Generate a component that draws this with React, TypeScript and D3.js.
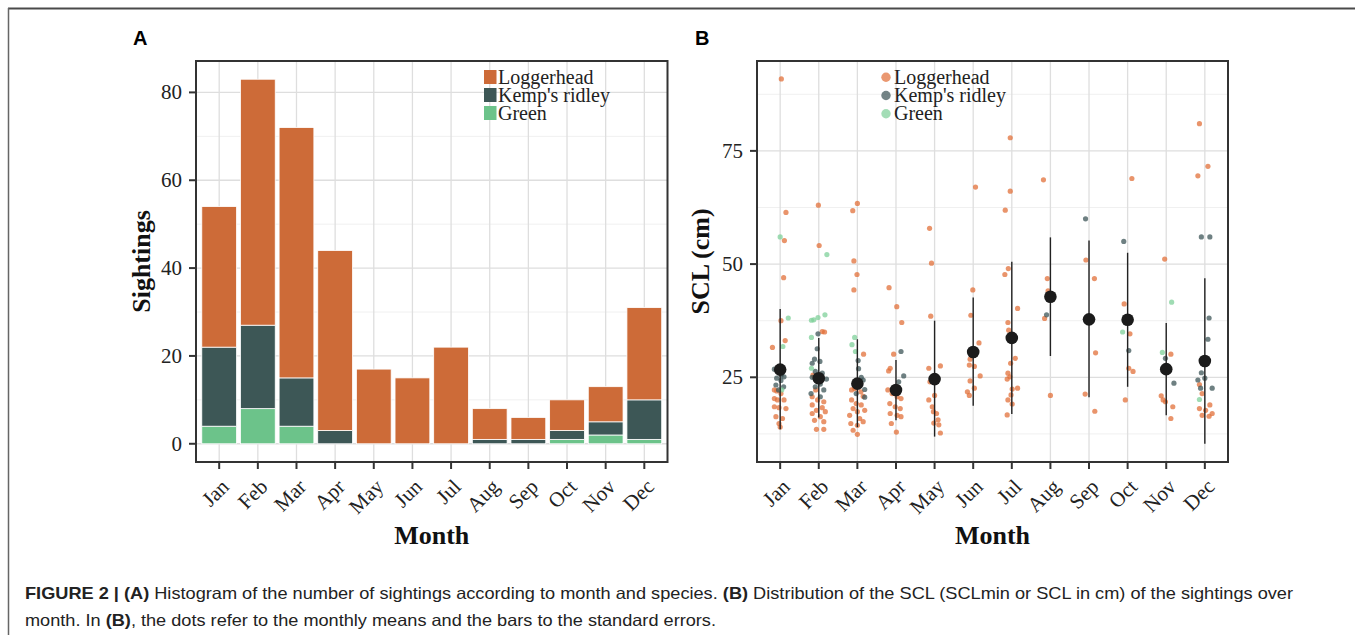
import * as d3 from "d3";

const MONTHS = ["Jan", "Feb", "Mar", "Apr", "May", "Jun", "Jul", "Aug", "Sep", "Oct", "Nov", "Dec"];

// panel A: sightings per month
const loggerheadCounts = [32, 56, 57, 41, 17, 15, 22, 7, 5, 7, 8, 21];
const kempCounts = [18, 19, 11, 3, 0, 0, 0, 1, 1, 2, 3, 9];
const greenCounts = [4, 8, 4, 0, 0, 0, 0, 0, 0, 1, 2, 1];
const countTicks = [0, 20, 40, 60, 80];

// panel B: monthly means and standard error bars
const meanScl = [26.7, 24.8, 23.6, 22.2, 24.6, 30.6, 33.7, 42.8, 37.8, 37.7, 26.8, 28.6];
const errLow = [13.5, 16.1, 14.0, 15.5, 11.9, 18.7, 16.9, 29.7, 20.6, 22.9, 16.6, 10.3];
const errHigh = [40.1, 33.7, 33.4, 28.8, 37.5, 42.6, 50.5, 55.9, 55.2, 52.5, 37.0, 46.9];
const sclTicks = [25, 50, 75];

// [month index, jitter, SCL]
const loggerheadPts: [number, number, number][] = [
  [0, 0.03, 90.9], [0, 0.15, 61.4], [0, 0.11, 55.2], [0, 0.09, 47.0], [0, 0.02, 37.5], [0, 0.13, 33.1],
  [0, -0.2, 31.6], [0, -0.15, 22.2], [0, -0.09, 22.0], [0, 0.02, 21.4], [0, -0.15, 20.3], [0, -0.07, 20.0],
  [0, 0.1, 20.0], [0, -0.15, 18.5], [0, -0.03, 18.3], [0, 0.15, 18.1], [0, -0.11, 16.3], [0, 0.06, 15.9],
  [0, -0.03, 14.8], [0, 0.0, 14.0],
  [1, -0.01, 63.0], [1, 0.01, 54.1], [1, 0.09, 35.1], [1, 0.15, 35.0], [1, -0.15, 25.5], [1, -0.08, 22.2],
  [1, -0.17, 20.7], [1, -0.03, 20.0], [1, 0.13, 19.6], [1, -0.17, 18.9], [1, 0.09, 18.3], [1, -0.06, 17.7],
  [1, 0.17, 17.4], [1, -0.17, 17.0], [1, 0.04, 16.3], [1, -0.11, 15.5], [1, 0.13, 15.2], [1, -0.06, 13.5],
  [1, 0.13, 13.5],
  [2, -0.12, 61.8], [2, 0.0, 63.4], [2, -0.09, 50.7], [2, -0.01, 47.7], [2, -0.09, 44.3], [2, 0.16, 30.1],
  [2, -0.15, 22.2], [2, -0.07, 22.5], [2, 0.09, 21.8], [2, 0.15, 20.8], [2, -0.15, 20.0], [2, -0.03, 19.2],
  [2, 0.1, 18.9], [2, -0.11, 18.1], [2, 0.19, 17.7], [2, 0.0, 17.4], [2, -0.2, 16.6], [2, 0.06, 15.9],
  [2, 0.15, 15.2], [2, -0.17, 14.8], [2, 0.0, 14.4], [2, -0.11, 13.3], [2, 0.0, 12.4],
  [3, -0.18, 44.8], [3, 0.02, 40.6], [3, 0.15, 37.1], [3, -0.06, 30.1], [3, -0.15, 27.0], [3, -0.19, 26.4],
  [3, -0.21, 22.2], [3, -0.1, 21.4], [3, 0.03, 20.7], [3, 0.13, 20.3], [3, -0.16, 19.2], [3, -0.02, 18.5],
  [3, 0.11, 18.1], [3, -0.15, 17.0], [3, 0.03, 16.6], [3, 0.13, 16.3], [3, -0.12, 14.8], [3, 0.01, 12.9],
  [4, -0.13, 57.9], [4, -0.08, 50.2], [4, -0.1, 38.5], [4, -0.15, 27.0], [4, 0.15, 27.5], [4, -0.12, 24.0],
  [4, 0.0, 21.0], [4, -0.15, 20.0], [4, -0.06, 18.5], [4, -0.03, 17.4], [4, 0.05, 17.0], [4, 0.09, 15.6],
  [4, -0.02, 14.9], [4, 0.11, 14.5], [4, 0.15, 12.7],
  [5, 0.06, 67.0], [5, -0.01, 44.3], [5, -0.06, 38.7], [5, 0.15, 32.6], [5, -0.08, 29.0], [5, 0.03, 27.4],
  [5, -0.1, 27.7], [5, 0.18, 25.3], [5, -0.08, 24.2], [5, 0.03, 22.6], [5, -0.15, 21.8], [5, -0.1, 21.0],
  [6, -0.04, 77.9], [6, -0.04, 66.1], [6, -0.17, 61.9], [6, -0.09, 49.0], [6, -0.18, 47.7], [6, 0.15, 40.2],
  [6, -0.1, 37.1], [6, -0.08, 35.4], [6, 0.09, 29.2], [6, -0.03, 28.1], [6, -0.1, 25.9], [6, -0.05, 25.1],
  [6, -0.12, 24.6], [6, 0.15, 22.6], [6, 0.01, 22.4], [6, -0.02, 21.1], [6, -0.1, 20.0], [6, 0.01, 19.1],
  [6, -0.12, 16.7],
  [7, -0.18, 68.6], [7, -0.08, 46.8], [7, -0.06, 44.1], [7, -0.15, 38.0], [7, 0.0, 21.0],
  [8, -0.08, 50.9], [8, 0.14, 46.8], [8, 0.17, 30.4], [8, -0.1, 21.3], [8, 0.15, 17.5],
  [9, 0.11, 68.9], [9, -0.09, 41.2], [9, 0.06, 34.6], [9, 0.03, 27.0], [9, 0.14, 26.3], [9, -0.06, 20.0],
  [10, -0.04, 51.1], [10, 0.12, 30.1], [10, -0.13, 20.9], [10, -0.08, 20.0], [10, -0.02, 19.6],
  [10, 0.17, 18.5], [10, 0.12, 15.9],
  [11, -0.14, 81.0], [11, 0.08, 71.6], [11, -0.18, 69.5], [11, -0.14, 23.4], [11, -0.07, 21.4],
  [11, 0.13, 18.9], [11, -0.14, 18.1], [11, 0.02, 17.7], [11, 0.19, 17.0], [11, -0.07, 16.6], [11, 0.11, 16.4],
];

const kempPts: [number, number, number][] = [
  [0, -0.15, 26.8], [0, -0.07, 26.3], [0, 0.03, 25.5], [0, -0.09, 24.8], [0, 0.02, 24.3], [0, -0.11, 23.3],
  [0, 0.09, 22.9], [0, -0.04, 22.2], [0, 0.1, 25.1],
  [1, -0.02, 34.6], [1, -0.04, 31.3], [1, -0.11, 29.0], [1, 0.03, 28.5], [1, -0.17, 28.1], [1, -0.09, 26.3],
  [1, 0.09, 25.9], [1, -0.17, 25.0], [1, 0.2, 24.6], [1, 0.04, 23.5], [1, -0.09, 22.9], [1, 0.13, 22.2],
  [1, -0.2, 21.4], [1, 0.04, 20.7],
  [2, 0.02, 28.7], [2, 0.03, 26.9], [2, 0.1, 25.0], [2, 0.19, 22.3], [2, -0.03, 21.4], [2, 0.19, 20.6],
  [2, -0.07, 23.5], [2, 0.15, 24.4],
  [3, 0.13, 30.7], [3, 0.2, 25.3], [3, 0.07, 24.0],
  [7, -0.1, 38.8],
  [8, -0.09, 60.0],
  [9, -0.1, 55.0], [9, 0.03, 30.9],
  [10, -0.02, 29.2], [10, 0.2, 23.7], [10, -0.08, 27.0],
  [11, -0.09, 56.0], [11, 0.13, 56.0], [11, 0.11, 38.1], [11, 0.08, 33.4], [11, -0.09, 26.0],
  [11, -0.18, 24.4], [11, 0.0, 24.8], [11, -0.11, 22.6], [11, 0.19, 22.6],
];

const greenPts: [number, number, number][] = [
  [0, 0.0, 56.0], [0, 0.21, 38.1], [0, 0.07, 31.8], [0, 0.04, 22.2],
  [1, 0.21, 52.1], [1, -0.19, 37.6], [1, -0.13, 37.7], [1, -0.02, 38.2], [1, 0.16, 38.8], [1, -0.19, 33.8],
  [1, -0.19, 27.0],
  [2, -0.07, 33.8], [2, -0.14, 32.2], [2, -0.05, 30.7],
  [9, -0.13, 35.0],
  [10, 0.14, 41.6], [10, -0.1, 30.5],
  [11, -0.14, 20.1],
];

const SERIF = "'Liberation Serif', 'Times New Roman', serif";
const SANS = "'Liberation Sans', Arial, sans-serif";

const BAR_COLORS = { loggerhead: "#cd6b38", kemp: "#3d5756", green: "#6cc38a" };
const PT_COLORS = { loggerhead: "#e2703a", kemp: "#3e5558", green: "#7fd09a" };

const TOP = 61;
const BOTTOM = 462;

function Frame({ x0, x1 }: { x0: number; x1: number }) {
  return (
    <rect x={x0} y={TOP} width={x1 - x0} height={BOTTOM - TOP} fill="none" stroke="#333" strokeWidth={2} />
  );
}

function MonthAxis({ x }: { x: d3.ScaleLinear<number, number> }) {
  return (
    <g>
      {MONTHS.map((m, i) => (
        <g key={m}>
          <line x1={x(i)} x2={x(i)} y1={BOTTOM} y2={BOTTOM + 7} stroke="#333" strokeWidth={2} />
          <text
            transform={`translate(${x(i) + 11},${488}) rotate(-45)`}
            textAnchor="end"
            fontFamily={SERIF}
            fontSize={21}
            fill="#222"
          >
            {m}
          </text>
        </g>
      ))}
    </g>
  );
}

function PanelA() {
  const x = d3.scaleLinear().domain([-0.6, 11.6]).range([196, 667.5]);
  const y = d3.scaleLinear().domain([-4.15, 87.15]).range([BOTTOM, TOP]);
  const step = x(1) - x(0);
  const bw = step * 0.9;
  const minor = [10, 30, 50, 70];
  const legend = [
    { label: "Loggerhead", color: BAR_COLORS.loggerhead },
    { label: "Kemp's ridley", color: BAR_COLORS.kemp },
    { label: "Green", color: BAR_COLORS.green },
  ];
  return (
    <g>
      <rect x={196} y={TOP} width={471.5} height={BOTTOM - TOP} fill="#fff" />
      {minor.map((t) => (
        <line key={t} x1={196} x2={667.5} y1={y(t)} y2={y(t)} stroke="#f0f0f0" strokeWidth={1} />
      ))}
      {countTicks.map((t) => (
        <line key={t} x1={196} x2={667.5} y1={y(t)} y2={y(t)} stroke="#dedede" strokeWidth={1.3} />
      ))}
      {MONTHS.map((m, i) => (
        <line key={m} x1={x(i)} x2={x(i)} y1={TOP} y2={BOTTOM} stroke="#dedede" strokeWidth={1.3} />
      ))}
      {MONTHS.map((m, i) => {
        const g0 = greenCounts[i];
        const k0 = g0 + kempCounts[i];
        const l0 = k0 + loggerheadCounts[i];
        const segs = [
          { a: 0, b: g0, c: BAR_COLORS.green },
          { a: g0, b: k0, c: BAR_COLORS.kemp },
          { a: k0, b: l0, c: BAR_COLORS.loggerhead },
        ].filter((s) => s.b > s.a);
        return (
          <g key={m}>
            {segs.map((s, j) => (
              <rect
                key={j}
                x={x(i) - bw / 2}
                y={y(s.b)}
                width={bw}
                height={y(s.a) - y(s.b)}
                fill={s.c}
                stroke="#fff"
                strokeWidth={0.8}
              />
            ))}
          </g>
        );
      })}
      {legend.map((l, i) => (
        <g key={l.label}>
          <rect x={484} y={70 + i * 18} width={12.5} height={14} fill={l.color} />
          <text x={498} y={83.5 + i * 18} fontFamily={SERIF} fontSize={20} fill="#222">
            {l.label}
          </text>
        </g>
      ))}
      <Frame x0={196} x1={667.5} />
      {countTicks.map((t) => (
        <g key={t}>
          <line x1={189} x2={196} y1={y(t)} y2={y(t)} stroke="#333" strokeWidth={2} />
          <text x={182} y={y(t) + 7} textAnchor="end" fontFamily={SERIF} fontSize={21} fill="#222">
            {t}
          </text>
        </g>
      ))}
      <MonthAxis x={x} />
      <text
        transform={`translate(150,${(TOP + BOTTOM) / 2}) rotate(-90)`}
        textAnchor="middle"
        fontFamily={SERIF}
        fontWeight="bold"
        fontSize={26}
        fill="#111"
      >
        Sightings
      </text>
      <text x={(196 + 667.5) / 2} y={544} textAnchor="middle" fontFamily={SERIF} fontWeight="bold" fontSize={26} fill="#111">
        Month
      </text>
      <text x={133} y={45} fontFamily={SANS} fontWeight="bold" fontSize={20} fill="#000">
        A
      </text>
    </g>
  );
}

function PanelB() {
  const x0 = 757;
  const x1 = 1228;
  const x = d3.scaleLinear().domain([-0.6, 11.6]).range([x0, x1]);
  const y = d3.scaleLinear().domain([6.36, 94.85]).range([461.7, TOP]);
  const minor = [12.5, 37.5, 62.5, 87.5];
  const series = [
    { pts: loggerheadPts, color: PT_COLORS.loggerhead },
    { pts: kempPts, color: PT_COLORS.kemp },
    { pts: greenPts, color: PT_COLORS.green },
  ];
  const legend = [
    { label: "Loggerhead", color: PT_COLORS.loggerhead },
    { label: "Kemp's ridley", color: PT_COLORS.kemp },
    { label: "Green", color: PT_COLORS.green },
  ];
  return (
    <g>
      <rect x={x0} y={TOP} width={x1 - x0} height={BOTTOM - TOP} fill="#fff" />
      {minor.map((t) => (
        <line key={t} x1={x0} x2={x1} y1={y(t)} y2={y(t)} stroke="#f0f0f0" strokeWidth={1} />
      ))}
      {sclTicks.map((t) => (
        <line key={t} x1={x0} x2={x1} y1={y(t)} y2={y(t)} stroke="#dedede" strokeWidth={1.3} />
      ))}
      {MONTHS.map((m, i) => (
        <line key={m} x1={x(i)} x2={x(i)} y1={TOP} y2={BOTTOM} stroke="#dedede" strokeWidth={1.3} />
      ))}
      {series.map((s, si) => (
        <g key={si} fill={s.color} fillOpacity={0.75}>
          {s.pts.map((p, j) => (
            <circle key={j} cx={x(p[0] + p[1])} cy={y(p[2])} r={2.6} />
          ))}
        </g>
      ))}
      {MONTHS.map((m, i) => (
        <g key={m}>
          <line x1={x(i)} x2={x(i)} y1={y(errLow[i])} y2={y(errHigh[i])} stroke="#222" strokeWidth={1.4} />
          <circle cx={x(i)} cy={y(meanScl[i])} r={6.3} fill="#1b1b1b" />
        </g>
      ))}
      {legend.map((l, i) => (
        <g key={l.label}>
          <circle cx={886} cy={77.3 + i * 18.2} r={4.7} fill={l.color} fillOpacity={0.72} />
          <text x={894} y={83.5 + i * 18} fontFamily={SERIF} fontSize={20} fill="#222">
            {l.label}
          </text>
        </g>
      ))}
      <Frame x0={x0} x1={x1} />
      {sclTicks.map((t) => (
        <g key={t}>
          <line x1={750} x2={x0} y1={y(t)} y2={y(t)} stroke="#333" strokeWidth={2} />
          <text x={743} y={y(t) + 7} textAnchor="end" fontFamily={SERIF} fontSize={21} fill="#222">
            {t}
          </text>
        </g>
      ))}
      <MonthAxis x={x} />
      <text
        transform={`translate(709,${(TOP + BOTTOM) / 2}) rotate(-90)`}
        textAnchor="middle"
        fontFamily={SERIF}
        fontWeight="bold"
        fontSize={26}
        fill="#111"
      >
        SCL (cm)
      </text>
      <text x={(x0 + x1) / 2} y={544} textAnchor="middle" fontFamily={SERIF} fontWeight="bold" fontSize={26} fill="#111">
        Month
      </text>
      <text x={695} y={45} fontFamily={SANS} fontWeight="bold" fontSize={20} fill="#000">
        B
      </text>
    </g>
  );
}

export default function App() {
  return (
    <svg
      width={1355}
      height={635}
      style={{ display: "block", position: "absolute", left: 0, top: 0, background: "#fff" }}
    >
      <line x1={8} x2={1355} y1={8.5} y2={8.5} stroke="#4a4a4a" strokeWidth={2} />
      <line x1={8.5} x2={8.5} y1={8} y2={635} stroke="#666" strokeWidth={1.5} />
      <PanelA />
      <PanelB />
      <text x={25} y={599} fontFamily={SANS} fontSize={16.5} fill="#222" textLength={1268} lengthAdjust="spacingAndGlyphs">
        <tspan fontWeight="bold">FIGURE 2 | (A)</tspan> Histogram of the number of sightings according to month and species.{" "}
        <tspan fontWeight="bold">(B)</tspan> Distribution of the SCL (SCLmin or SCL in cm) of the sightings over
      </text>
      <text x={25} y={626} fontFamily={SANS} fontSize={16.5} fill="#222" textLength={691} lengthAdjust="spacingAndGlyphs">
        month. In <tspan fontWeight="bold">(B)</tspan>, the dots refer to the monthly means and the bars to the standard errors.
      </text>
    </svg>
  );
}
